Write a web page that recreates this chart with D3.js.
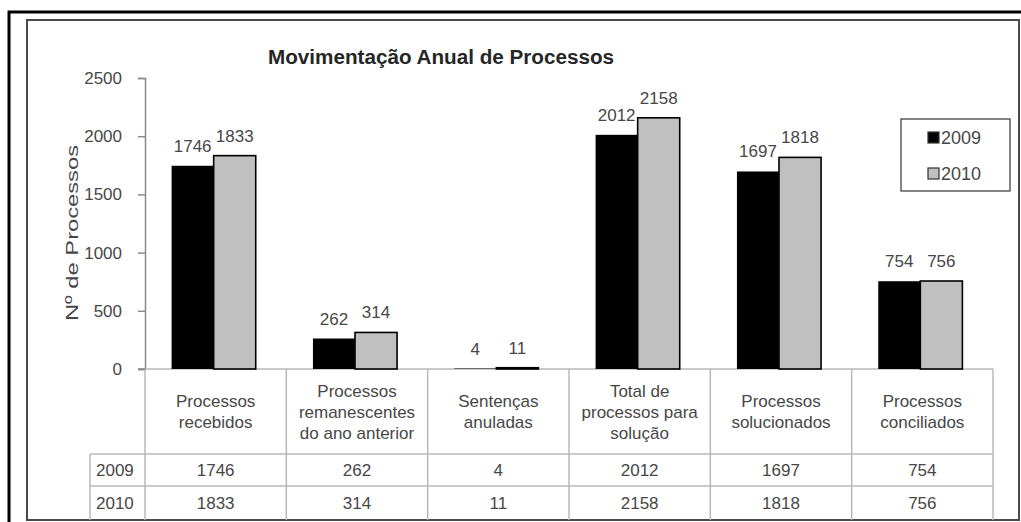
<!DOCTYPE html>
<html>
<head>
<meta charset="utf-8">
<script src="https://cdn.jsdelivr.net/npm/d3@7"></script>
<style>
  html, body { margin: 0; padding: 0; background: #fff; }
  svg { display: block; font-family: "Liberation Sans", Arial, sans-serif; }
</style>
</head>
<body>
<svg id="chart" width="1021" height="522"></svg>
<script>
const title = "Movimentação Anual de Processos";
const yAxisTitle = "Nº de Processos";
const categories = [
  ["Processos", "recebidos"],
  ["Processos", "remanescentes", "do ano anterior"],
  ["Sentenças", "anuladas"],
  ["Total de", "processos para", "solução"],
  ["Processos", "solucionados"],
  ["Processos", "conciliados"]
];
const years = ["2009", "2010"];
const values2009 = [1746, 262, 4, 2012, 1697, 754];
const values2010 = [1833, 314, 11, 2158, 1818, 756];
const yTicks = [0, 500, 1000, 1500, 2000, 2500];
const colors = { "2009": "#000000", "2010": "#c0c0c0" };

const series = { "2009": values2009, "2010": values2010 };
const catKeys = categories.map((c, i) => i);

const svg = d3.select("#chart");
const textColor = "#474747";
const gridColor = "#b8b8b8";

// Frames
svg.append("rect").attr("x", 9).attr("y", 12).attr("width", 1030).attr("height", 530)
  .attr("fill", "none").attr("stroke", "#000").attr("stroke-width", 3);
svg.append("rect").attr("x", 27).attr("y", 20).attr("width", 992).attr("height", 500)
  .attr("fill", "#fff").attr("stroke", "#4a4a4a").attr("stroke-width", 2);

const plotLeft = 145, plotRight = 993, plotBase = 369, plotTop = 78;
const x0 = d3.scaleBand().domain(catKeys).range([plotLeft, plotRight]).padding(0);
const x1 = d3.scaleBand().domain(years).range([0, x0.bandwidth()]).paddingInner(0).paddingOuter(0.68);
const y = d3.scaleLinear().domain([0, 2500]).range([plotBase, plotTop]);

// Title
svg.append("text").attr("x", 441).attr("y", 64).attr("text-anchor", "middle")
  .attr("font-size", 20).attr("font-weight", "bold").attr("fill", "#262626")
  .attr("textLength", 346).attr("lengthAdjust", "spacingAndGlyphs").text(title);

// Y axis
const yAxis = d3.axisLeft(y).tickValues(yTicks).tickSize(7).tickPadding(16).tickFormat(d3.format("d"));
const gy = svg.append("g").attr("transform", `translate(${plotLeft},0)`).call(yAxis);
gy.select(".domain").attr("stroke", "#8a8a8a").attr("stroke-width", 1.5);
gy.selectAll(".tick line").attr("stroke", "#8a8a8a").attr("stroke-width", 1.5);
gy.selectAll(".tick text").attr("font-size", 17).attr("fill", textColor)
  .attr("font-family", "Liberation Sans, Arial, sans-serif");

svg.append("text").attr("transform", "translate(78,233) rotate(-90)")
  .attr("text-anchor", "middle").attr("font-size", 17).attr("fill", textColor)
  .attr("textLength", 176).attr("lengthAdjust", "spacingAndGlyphs")
  .text(yAxisTitle);

// Table grid
const tableRows = [454, 486, 520];
const grid = svg.append("g").attr("stroke", gridColor).attr("stroke-width", 1.5);
grid.append("line").attr("x1", plotLeft).attr("x2", plotRight).attr("y1", plotBase).attr("y2", plotBase);
x0.domain().forEach(k => {
  grid.append("line").attr("x1", x0(k)).attr("x2", x0(k)).attr("y1", plotBase).attr("y2", 520);
});
grid.append("line").attr("x1", plotRight).attr("x2", plotRight).attr("y1", plotBase).attr("y2", 520);
grid.append("line").attr("x1", 90).attr("x2", 90).attr("y1", tableRows[0]).attr("y2", 520);
grid.append("line").attr("x1", 90).attr("x2", plotRight).attr("y1", tableRows[0]).attr("y2", tableRows[0]);
grid.append("line").attr("x1", 90).attr("x2", plotRight).attr("y1", tableRows[1]).attr("y2", tableRows[1]);
svg.append("line").attr("x1", plotLeft - 7).attr("x2", plotLeft).attr("y1", plotBase).attr("y2", plotBase)
  .attr("stroke", "#8a8a8a").attr("stroke-width", 1.5);

// Bars
const groups = svg.append("g").selectAll("g").data(catKeys).join("g")
  .attr("transform", k => `translate(${x0(k) - 2},0)`);
groups.selectAll("rect").data(k => years.map(yr => ({ yr, v: series[yr][k] }))).join("rect")
  .attr("x", d => x1(d.yr)).attr("width", x1.bandwidth())
  .attr("y", d => y(d.v)).attr("height", d => plotBase - y(d.v))
  .attr("fill", d => colors[d.yr])
  .attr("stroke", "#000").attr("stroke-width", d => d.yr === "2010" ? 1.6 : 0);
groups.selectAll("text").data(k => years.map(yr => ({ yr, v: series[yr][k] }))).join("text")
  .attr("x", d => x1(d.yr) + x1.bandwidth() / 2).attr("y", d => y(d.v) - 14)
  .attr("text-anchor", "middle").attr("font-size", 17).attr("fill", textColor)
  .text(d => d.v);

// Category header text
const header = svg.append("g");
categories.forEach((lines, k) => {
  const cx = x0(k) + x0.bandwidth() / 2;
  const lh = 21;
  const startY = (plotBase + tableRows[0]) / 2 - (lines.length - 1) * lh / 2 + 6;
  lines.forEach((ln, j) => {
    header.append("text").attr("x", cx).attr("y", startY + j * lh)
      .attr("text-anchor", "middle").attr("font-size", 17).attr("fill", textColor).text(ln);
  });
});

// Table rows
years.forEach((yr, r) => {
  const cy = (tableRows[r] + tableRows[r + 1]) / 2 + 6;
  svg.append("text").attr("x", 96).attr("y", cy).attr("font-size", 17).attr("fill", textColor).text(yr);
  series[yr].forEach((v, k) => {
    svg.append("text").attr("x", x0(k) + x0.bandwidth() / 2).attr("y", cy)
      .attr("text-anchor", "middle").attr("font-size", 17).attr("fill", textColor).text(v);
  });
});

// Legend
const lg = svg.append("g");
lg.append("rect").attr("x", 901).attr("y", 119).attr("width", 109).attr("height", 72)
  .attr("fill", "#fff").attr("stroke", "#333").attr("stroke-width", 1.2);
years.forEach((yr, i) => {
  const cy = 138 + i * 36;
  lg.append("rect").attr("x", 928).attr("y", cy - 6).attr("width", 11).attr("height", 11)
    .attr("fill", colors[yr]).attr("stroke", "#333").attr("stroke-width", 1.2);
  lg.append("text").attr("x", 941).attr("y", cy + 6).attr("font-size", 18)
    .attr("fill", textColor).text(yr);
});
</script>
</body>
</html>
